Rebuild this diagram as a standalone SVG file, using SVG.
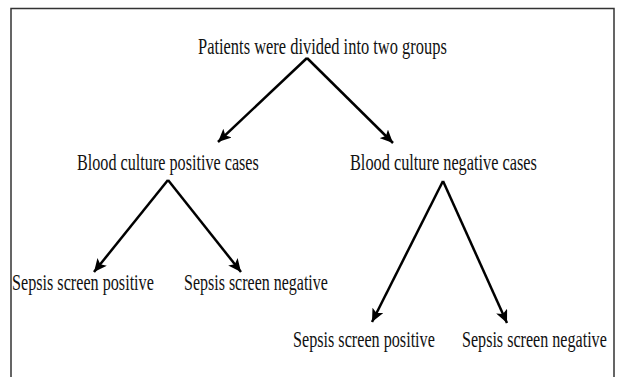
<svg xmlns="http://www.w3.org/2000/svg" width="624" height="377" viewBox="0 0 624 377">
<defs>
<style>
.t{font-family:"Liberation Serif","Times New Roman",serif;font-size:23px;fill:#111;}
.c{stroke:#000;stroke-width:2.5;fill:none;marker-end:url(#ah);}
.frame{fill:none;stroke:#333;stroke-width:1.5;}
</style>
<marker id="ah" markerUnits="userSpaceOnUse" markerWidth="14" markerHeight="12" refX="13" refY="6" orient="auto">
<path d="M0,0 L13,6 L0,12 L3,6 z" fill="#000"/>
</marker>
</defs>
<rect width="624" height="377" fill="#fff"/>
<path class="frame" d="M11,377 V8.5 H614 V377"/>
<g id="connectors">
<line class="c" x1="307" y1="58" x2="218" y2="142"/>
<line class="c" x1="307" y1="58" x2="393" y2="143"/>
<line class="c" x1="168" y1="180" x2="94" y2="272"/>
<line class="c" x1="168" y1="180" x2="241" y2="272"/>
<line class="c" x1="443" y1="181" x2="372" y2="322"/>
<line class="c" x1="443" y1="181" x2="507" y2="323"/>
</g>
<g id="root" transform="translate(198,54) scale(0.715,1)"><text class="t" x="0" y="0">Patients were divided into two groups</text></g>
<g id="bcp" transform="translate(77,170) scale(0.703,1)"><text class="t" x="0" y="0">Blood culture positive cases</text></g>
<g id="bcn" transform="translate(350,170) scale(0.709,1)"><text class="t" x="0" y="0">Blood culture negative cases</text></g>
<g id="ssp1" transform="translate(12,290) scale(0.703,1)"><text class="t" x="0" y="0">Sepsis screen positive</text></g>
<g id="ssn1" transform="translate(184,290) scale(0.696,1)"><text class="t" x="0" y="0">Sepsis screen negative</text></g>
<g id="ssp2" transform="translate(293,347) scale(0.703,1)"><text class="t" x="0" y="0">Sepsis screen positive</text></g>
<g id="ssn2" transform="translate(462,347) scale(0.70,1)"><text class="t" x="0" y="0">Sepsis screen negative</text></g>
</svg>
